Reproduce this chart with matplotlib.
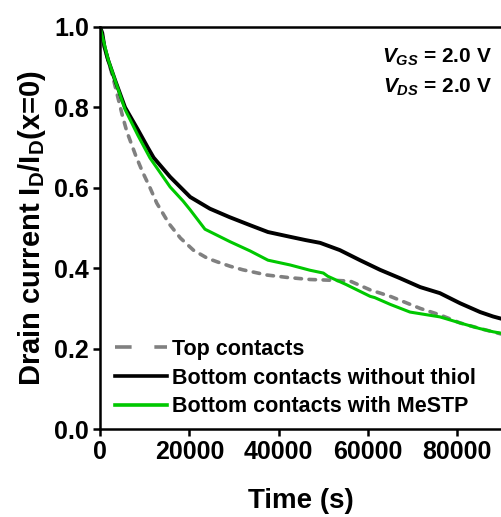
import numpy as np
import matplotlib
matplotlib.use('Agg')
import matplotlib.pyplot as plt
from matplotlib.lines import Line2D

plt.rcParams['font.family'] = ['Liberation Sans', 'DejaVu Sans']
plt.rcParams['font.weight'] = 'bold'
plt.rcParams['mathtext.fontset'] = 'custom'
plt.rcParams['mathtext.rm'] = 'Liberation Sans:bold'
plt.rcParams['mathtext.it'] = 'Liberation Sans:bold:italic'
plt.rcParams['mathtext.bf'] = 'Liberation Sans:bold'

# normalised drain current vs time
t_top = [0, 1000, 2000, 3000, 4000, 5000, 6000, 8000, 9500, 11200, 12700,
         15500, 18000, 20900, 24000, 26200, 29100, 32000, 37400, 42000,
         47000, 52000, 56000, 60500, 65000, 71700, 76100, 80600, 85100, 90000]
i_top = [1.0, 0.95, 0.91, 0.87, 0.825, 0.78, 0.74, 0.68, 0.64, 0.60, 0.562,
         0.51, 0.475, 0.445, 0.425, 0.416, 0.405, 0.396, 0.383, 0.377,
         0.372, 0.370, 0.368, 0.346, 0.33, 0.30, 0.284, 0.264, 0.25, 0.236]

t_bare = [0, 500, 1000, 1800, 3360, 5600, 8500, 10700, 12000, 15700, 20200,
          24600, 29000, 33600, 37600, 42600, 46000, 49300, 53700, 58200,
          62700, 67200, 71700, 76100, 80600, 85100, 88000, 90000]
i_bare = [1.0, 0.985, 0.95, 0.918, 0.868, 0.80, 0.744, 0.70, 0.675, 0.627,
          0.577, 0.548, 0.527, 0.507, 0.49, 0.478, 0.470, 0.463, 0.445, 0.42,
          0.396, 0.375, 0.353, 0.338, 0.313, 0.291, 0.28, 0.274]

t_mestp = [0, 1800, 3360, 5600, 8500, 11200, 15700, 18600, 20200, 23500,
           29100, 33600, 37600, 42600, 47000, 50000, 51000, 55000, 60500,
           61500, 65000, 69400, 76100, 80600, 85000, 88000, 90000]
i_mestp = [1.0, 0.92, 0.868, 0.795, 0.73, 0.674, 0.602, 0.567, 0.545, 0.497,
           0.466, 0.443, 0.42, 0.408, 0.395, 0.388, 0.38, 0.36, 0.33,
           0.327, 0.31, 0.291, 0.279, 0.264, 0.25, 0.242, 0.238]

fig = plt.figure(figsize=(5.01, 5.17), dpi=100)
ax = fig.add_axes([0.1996, 0.170, 0.8024, 0.778])

ax.plot(t_top, i_top, color='#808080', lw=2.6, dashes=(1.8, 2.1),
        dash_capstyle='round')
ax.plot(t_bare, i_bare, color='black', lw=2.8)
ax.plot(t_mestp, i_mestp, color='#00c800', lw=2.2)

ax.set_xlim(0, 90000)
ax.set_ylim(0, 1.0)
ax.set_xticks([0, 20000, 40000, 60000, 80000])
ax.set_yticks([0.0, 0.2, 0.4, 0.6, 0.8, 1.0])
ax.set_yticklabels(['0.0', '0.2', '0.4', '0.6', '0.8', '1.0'])

for s in ['left', 'bottom', 'top']:
    ax.spines[s].set_linewidth(1.8)
ax.spines['right'].set_visible(False)
ax.tick_params(direction='out', length=5, width=1.8, labelsize=18, pad=3)
for lab in ax.get_xticklabels() + ax.get_yticklabels():
    lab.set_fontweight('bold')

ax.set_xlabel('Time (s)', fontsize=20, fontweight='bold', labelpad=17)
ax.set_ylabel(r'Drain current I$_\mathrm{D}$/I$_\mathrm{D}$(x=0)',
              fontsize=21, fontweight='bold', labelpad=4)

ax.text(0.975, 0.925, r'$V_{GS}$ = 2.0 V', transform=ax.transAxes,
        ha='right', va='center', fontsize=15, fontweight='bold')
ax.text(0.975, 0.85, r'$V_{DS}$ = 2.0 V', transform=ax.transAxes,
        ha='right', va='center', fontsize=15, fontweight='bold')

handles = [Line2D([], [], color='#808080', lw=2.6, dashes=(4.6, 6.3)),
           Line2D([], [], color='black', lw=2.6),
           Line2D([], [], color='#00c800', lw=2.6)]
labels = ['Top contacts', 'Bottom contacts without thiol',
          'Bottom contacts with MeSTP']
ax.legend(handles, labels, loc='lower left', bbox_to_anchor=(0.0, -0.008),
          frameon=False, fontsize=15.5, handlelength=2.4, handletextpad=0.25,
          labelspacing=0.36, borderaxespad=0.3)

fig.savefig('out.png', dpi=100)
